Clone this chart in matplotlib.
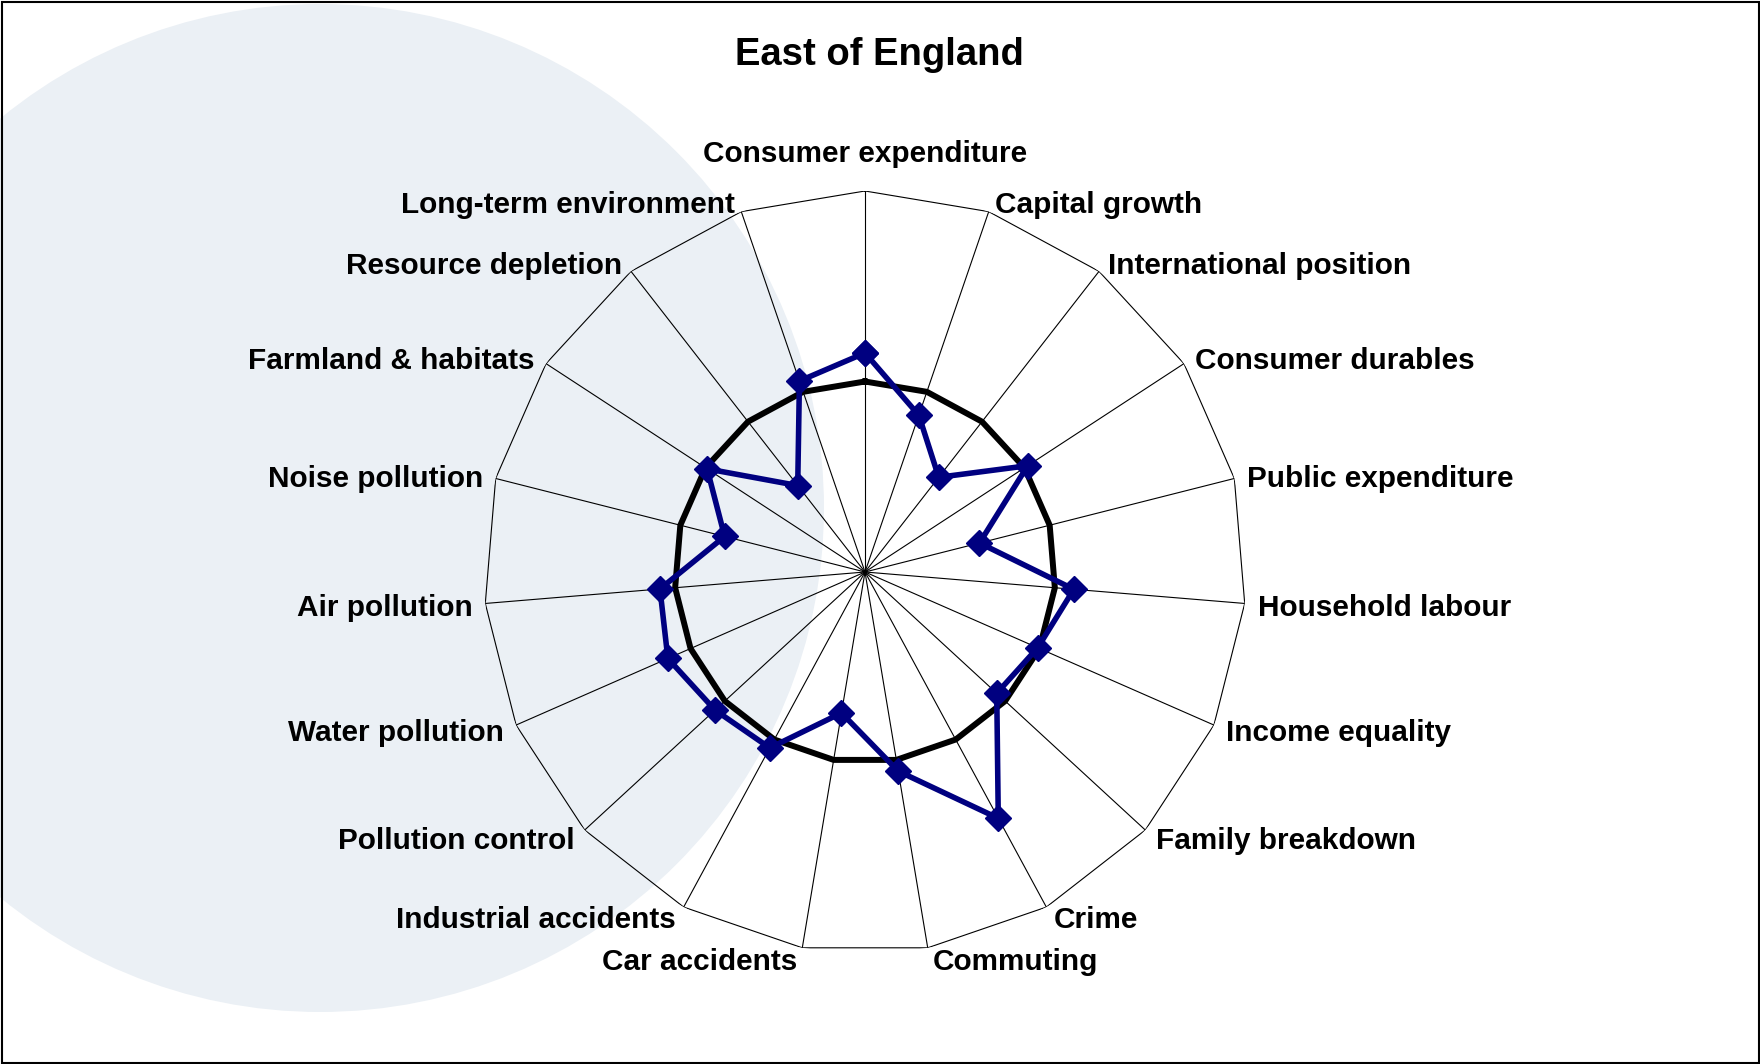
import numpy as np
import matplotlib
matplotlib.use("Agg")
import matplotlib.pyplot as plt
from matplotlib.patches import Ellipse, Rectangle

# ---- data ----
categories = [
    "Consumer expenditure", "Capital growth", "International position",
    "Consumer durables", "Public expenditure", "Household labour",
    "Income equality", "Family breakdown", "Crime", "Commuting",
    "Car accidents", "Industrial accidents", "Pollution control",
    "Water pollution", "Air pollution", "Noise pollution",
    "Farmland & habitats", "Resource depletion", "Long-term environment",
]
east_of_england = [1.15, 0.87, 0.63, 1.02, 0.62, 1.10, 0.99, 0.94, 1.47, 1.06,
                   0.75, 1.05, 1.07, 1.13, 1.08, 0.76, 0.99, 0.575, 1.06]
baseline = [1.0] * len(categories)
axis_max = 2.0
title = "East of England"

plt.rcParams['font.family'] = ['Liberation Sans', 'DejaVu Sans']

W, H = 1760, 1064
fig = plt.figure(figsize=(W / 100, H / 100), dpi=100)
fig.patch.set_facecolor('white')

# background decorative circle
circ = Ellipse((320 / W, 1 - 508 / H), width=1008 / W, height=1008 / H,
               transform=fig.transFigure, facecolor='#EBF0F5', edgecolor='none',
               zorder=-5)
fig.patches.append(circ)

# outer frame
frame = Rectangle((1.5 / W, 1.5 / H), 1 - 3 / W, 1 - 3 / H, transform=fig.transFigure,
                  facecolor='none', edgecolor='black', linewidth=1.5, zorder=10)
fig.patches.append(frame)

cx, cy, R = 865, 572, 381
ax = fig.add_axes([(cx - R) / W, (H - cy - R) / H, 2 * R / W, 2 * R / H],
                  projection='polar')
ax.patch.set_alpha(0)
ax.set_theta_offset(np.pi / 2)
ax.set_theta_direction(-1)
ax.set_ylim(0, axis_max)
ax.grid(False)
ax.set_xticks([])
ax.set_yticks([])
ax.spines['polar'].set_visible(False)

n = len(categories)
theta = np.arange(n) * 2 * np.pi / n
theta_c = np.append(theta, theta[0])

# spokes and outer polygon
for t in theta:
    ax.plot([t, t], [0, axis_max], color='black', linewidth=0.8, zorder=2)
ax.plot(theta_c, [axis_max] * (n + 1), color='black', linewidth=0.8, zorder=2)

# baseline
ax.plot(theta_c, baseline + [baseline[0]], color='black', linewidth=4.3, zorder=3)

# series
vals = east_of_england + [east_of_england[0]]
ax.plot(theta_c, vals, color='#000080', linewidth=4.0, marker='D', markersize=13,
        markeredgewidth=1, markeredgecolor='#000080', markerfacecolor='#000080', zorder=4)

# category labels
for t, lab in zip(theta, categories):
    s, c = np.sin(t), np.cos(t)
    if abs(s) < 1e-6:
        ha, dx, dy = 'center', 0, 37
    else:
        ha = 'left' if s > 0 else 'right'
        dx = np.sign(s) * (3 + 10 * abs(s))
        dy = 11 * c - 3.5
    ax.annotate(lab, xy=(t, axis_max), xytext=(dx, dy), textcoords='offset pixels',
                ha=ha, va='center', fontsize=21.4, fontweight='bold', color='black',
                annotation_clip=False, zorder=5)

fig.text(879.5 / W, 1 - 55 / H, title, ha='center', va='center',
         fontsize=27.5, fontweight='bold')

fig.savefig('out.png', dpi=100)
